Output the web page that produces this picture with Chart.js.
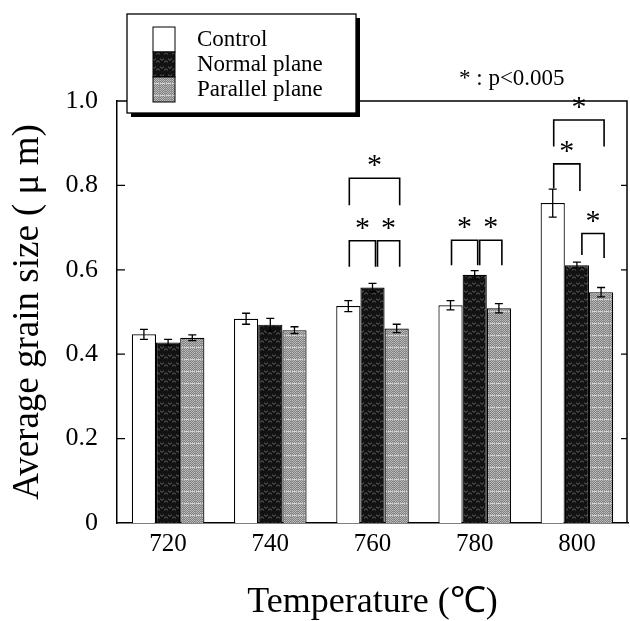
<!DOCTYPE html>
<html>
<head>
<meta charset="utf-8">
<script src="https://cdn.jsdelivr.net/npm/chart.js@4.4.1/dist/chart.umd.min.js"></script>
<style>
  body { margin: 0; background: #fff; }
  #wrap { width: 630px; height: 621px; }
</style>
</head>
<body>
<div id="wrap"><canvas id="grain" width="630" height="621"></canvas></div>
<script>
const temps = ['720', '740', '760', '780', '800'];
const seriesNames = ['Control', 'Normal plane', 'Parallel plane'];

const control = [0.447, 0.484, 0.514, 0.516, 0.758];
const normalPlane = [0.428, 0.470, 0.558, 0.588, 0.611];
const parallelPlane = [0.439, 0.457, 0.461, 0.509, 0.547];

const controlErr = [0.012, 0.013, 0.013, 0.011, 0.033];
const normalErr = [0.007, 0.015, 0.010, 0.010, 0.007];
const parallelErr = [0.007, 0.008, 0.010, 0.011, 0.011];

const yTicks = [0, 0.2, 0.4, 0.6, 0.8, 1.0];

// significance brackets: category, from bar, to bar, top level, leg ends
const sigCat = [2, 2, 2, 3, 3, 4, 4, 4];
const sigFrom = [0, 1, 0, 0, 1, 0, 0, 1];
const sigTo = [1, 2, 2, 1, 2, 1, 2, 2];
const sigTop = [0.669, 0.669, 0.817, 0.670, 0.670, 0.851, 0.955, 0.686];
const sigLeftEnd = [0.607, 0.607, 0.753, 0.611, 0.611, 0.793, 0.892, 0.635];
const sigRightEnd = [0.607, 0.607, 0.753, 0.611, 0.611, 0.787, 0.892, 0.628];

const serif = "'Liberation Serif', 'Times New Roman', serif";

function makeTile(w, h, paint) {
  const c = document.createElement('canvas');
  c.width = w; c.height = h;
  const g = c.getContext('2d');
  paint(g);
  return g.createPattern(c, 'repeat');
}

const darkFill = makeTile(8, 8, g => {
  g.fillStyle = '#121212';
  g.fillRect(0, 0, 8, 8);
  g.strokeStyle = '#5e5e5e';
  g.lineWidth = 1;
  g.beginPath(); g.arc(2, 2.5, 1.6, 0, Math.PI); g.stroke();
  g.beginPath(); g.arc(6, 6.5, 1.6, Math.PI, 2 * Math.PI); g.stroke();
});

const grayFill = makeTile(6, 12, g => {
  for (let y = 0; y < 12; y++) {
    for (let x = 0; x < 6; x++) {
      g.fillStyle = (x + y) % 2 ? '#7e7e7e' : '#bcbcbc';
      g.fillRect(x, y, 1, 1);
    }
  }
  g.fillStyle = '#d4d4d4';
  g.fillRect(0, 11, 6, 1);
  g.fillStyle = '#949494';
  g.fillRect(3, 0, 1, 12);
});

const errs = [controlErr, normalErr, parallelErr];

const extras = {
  id: 'extras',
  afterDatasetsDraw(chart) {
    const ctx = chart.ctx;
    const y = chart.scales.y;
    ctx.save();
    ctx.strokeStyle = '#000';
    ctx.lineWidth = 1.3;
    // error bars
    chart.data.datasets.forEach((ds, i) => {
      const meta = chart.getDatasetMeta(i);
      meta.data.forEach((bar, j) => {
        const v = ds.data[j], e = errs[i][j];
        const yt = y.getPixelForValue(v + e), yb = y.getPixelForValue(v - e);
        ctx.beginPath();
        ctx.moveTo(bar.x, yt); ctx.lineTo(bar.x, yb);
        ctx.moveTo(bar.x - 4, yt); ctx.lineTo(bar.x + 4, yt);
        ctx.moveTo(bar.x - 4, yb); ctx.lineTo(bar.x + 4, yb);
        ctx.stroke();
      });
    });
    // significance brackets
    ctx.lineWidth = 1.6;
    ctx.fillStyle = '#000';
    ctx.font = '30px ' + serif;
    ctx.textAlign = 'center';
    ctx.textBaseline = 'alphabetic';
    sigCat.forEach((c, k) => {
      const a = chart.getDatasetMeta(sigFrom[k]).data[c];
      const b = chart.getDatasetMeta(sigTo[k]).data[c];
      const x1 = a.x + (sigFrom[k] === 1 ? 5 : 1);
      const x2 = b.x + 3;
      const yt = y.getPixelForValue(sigTop[k]);
      ctx.beginPath();
      ctx.moveTo(x1, y.getPixelForValue(sigLeftEnd[k]));
      ctx.lineTo(x1, yt);
      ctx.lineTo(x2, yt);
      ctx.lineTo(x2, y.getPixelForValue(sigRightEnd[k]));
      ctx.stroke();
      ctx.fillText('*', (x1 + x2) / 2, yt - 4);
    });
    ctx.restore();
  },
  afterDraw(chart) {
    const ctx = chart.ctx;
    const a = chart.chartArea;
    const y = chart.scales.y;
    ctx.save();
    ctx.strokeStyle = '#000';
    ctx.lineWidth = 1.5;
    // frame top and right
    ctx.beginPath();
    ctx.moveTo(a.left, a.top); ctx.lineTo(a.right - 1, a.top); ctx.lineTo(a.right - 1, a.bottom);
    ctx.stroke();
    // inward ticks
    ctx.lineWidth = 1.3;
    yTicks.slice(1, -1).forEach(t => {
      const py = y.getPixelForValue(t);
      ctx.beginPath();
      ctx.moveTo(a.left, py); ctx.lineTo(a.left + 8, py);
      ctx.moveTo(a.right - 1, py); ctx.lineTo(a.right - 7, py);
      ctx.stroke();
    });
    // legend box with shadow
    const lx = 127, ly = 14, lw = 229, lh = 99;
    ctx.fillStyle = '#000';
    ctx.fillRect(lx + 4, ly + 4, lw, lh);
    ctx.fillStyle = '#fff';
    ctx.fillRect(lx, ly, lw, lh);
    ctx.lineWidth = 1.3;
    ctx.strokeRect(lx, ly, lw, lh);
    ctx.font = '23px ' + serif;
    ctx.textAlign = 'left';
    ctx.textBaseline = 'middle';
    chart.data.datasets.forEach((ds, i) => {
      const sy = 27 + i * 25;
      ctx.fillStyle = ds.backgroundColor;
      ctx.fillRect(153, sy, 22, 25);
      ctx.lineWidth = 1;
      ctx.strokeRect(153, sy, 22, 25);
      ctx.fillStyle = '#000';
      ctx.fillText(ds.label, 197, sy + 13);
    });
    // significance note
    ctx.font = '23px ' + serif;
    ctx.textBaseline = 'alphabetic';
    ctx.fillText('* : p<0.005', 459, 85);
    ctx.restore();
  }
};

new Chart(document.getElementById('grain'), {
  type: 'bar',
  data: {
    labels: temps,
    datasets: [
      { label: seriesNames[0], data: control, backgroundColor: '#ffffff' },
      { label: seriesNames[1], data: normalPlane, backgroundColor: darkFill },
      { label: seriesNames[2], data: parallelPlane, backgroundColor: grayFill }
    ]
  },
  options: {
    responsive: false,
    animation: false,
    devicePixelRatio: 1,
    layout: { padding: { top: 101, right: 2, left: 0, bottom: 0 } },
    datasets: {
      bar: {
        borderColor: '#000',
        borderWidth: 1.2,
        categoryPercentage: 0.71,
        barPercentage: 1.0
      }
    },
    plugins: { legend: { display: false }, tooltip: { enabled: false } },
    scales: {
      x: {
        grid: { display: false, drawTicks: false },
        border: { display: true, color: '#000', width: 1.5 },
        ticks: { color: '#000', font: { family: serif, size: 25 }, padding: 6 },
        title: {
          display: true,
          text: 'Temperature (℃)',
          color: '#000',
          font: { family: serif, size: 36, lineHeight: 1 },
          padding: 0
        },
        afterFit(scale) { scale.height = 98; }
      },
      y: {
        min: 0,
        max: 1.0,
        afterBuildTicks(scale) { scale.ticks = yTicks.map(v => ({ value: v })); },
        grid: { display: false, drawTicks: false },
        border: { display: true, color: '#000', width: 1.5 },
        ticks: {
          color: '#000',
          font: { family: serif, size: 26 },
          padding: 19,
          callback: v => v === 0 ? '0' : v.toFixed(1)
        },
        title: {
          display: true,
          text: 'Average grain size ( μ m)',
          color: '#000',
          font: { family: serif, size: 37, lineHeight: 1 },
          padding: { top: 10, bottom: 0 }
        },
        afterFit(scale) { scale.width = 117; }
      }
    }
  },
  plugins: [extras]
});
</script>
</body>
</html>
